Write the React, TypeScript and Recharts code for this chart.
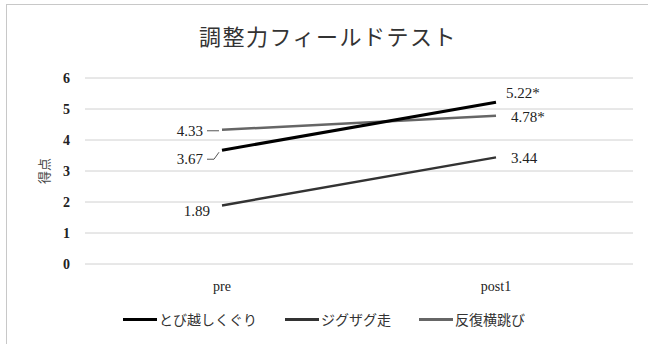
import React from 'react';
import { LineChart, Line, XAxis, YAxis, CartesianGrid, Legend, LabelList } from 'recharts';

// Test sessions
const sessions = ['pre', 'post1'];

// Mean scores per test item
const tobikoshiKuguri = [3.67, 5.22];
const zigzagRun = [1.89, 3.44];
const sideStep = [4.33, 4.78];

// Significance markers (*) per session
const tobikoshiSig = [false, true];
const zigzagSig = [false, false];
const sideStepSig = [false, true];

const yTicks = [0, 1, 2, 3, 4, 5, 6];

const seriesNames = ['とび越しくぐり', 'ジグザグ走', '反復横跳び'];

const data = sessions.map((s, i) => ({
  session: s,
  a: tobikoshiKuguri[i],
  b: zigzagRun[i],
  c: sideStep[i],
  aSig: tobikoshiSig[i],
  bSig: zigzagSig[i],
  cSig: sideStepSig[i],
}));

const SERIF = '"Liberation Serif", "DejaVu Serif", serif';
const JP = '"Noto Sans CJK JP", "Noto Sans", sans-serif';

type LabelStyle = { dx: number; dy: number; anchor: 'start' | 'end'; leader?: 'flat' | 'bent' };

// Label placement per series, indexed by session
const labelPlacement: Record<string, LabelStyle[]> = {
  a: [
    { dx: -19, dy: 14, anchor: 'end', leader: 'bent' },
    { dx: 10, dy: -4, anchor: 'start' },
  ],
  b: [
    { dx: -12, dy: 11, anchor: 'end' },
    { dx: 15, dy: 6, anchor: 'start' },
  ],
  c: [
    { dx: -19, dy: 6, anchor: 'end', leader: 'flat' },
    { dx: 15, dy: 6, anchor: 'start' },
  ],
};

const makeLabel = (key: string) => (props: any) => {
  const { x, y, value, index } = props;
  if (x == null || y == null) return null;
  const p = labelPlacement[key][index];
  const sig = data[index][(key + 'Sig') as 'aSig'];
  const text = Number(value).toFixed(2) + (sig ? '*' : '');
  let leader: React.ReactNode = null;
  if (p.leader === 'flat') {
    leader = <path d={`M${x - 15},${y + 1} L${x - 3},${y + 1}`} stroke="#555" strokeWidth={1} fill="none" />;
  } else if (p.leader === 'bent') {
    leader = (
      <path d={`M${x - 15},${y + 9} L${x - 8},${y + 9} L${x - 3},${y + 2}`} stroke="#555" strokeWidth={1} fill="none" />
    );
  }
  return (
    <g>
      {leader}
      <text x={x + p.dx} y={y + p.dy} textAnchor={p.anchor} fontFamily={SERIF} fontSize={15} fill="#222">
        {text}
      </text>
    </g>
  );
};

const legendColors = ['#000000', '#333333', '#666666'];

const LegendContent = () => (
  <div style={{ display: 'flex', justifyContent: 'center', alignItems: 'center', gap: 28, fontFamily: JP, fontSize: 14, color: '#333' }}>
    {seriesNames.map((n, i) => (
      <div key={n} style={{ display: 'flex', alignItems: 'center' }}>
        <span style={{ display: 'inline-block', width: 34, height: 3, background: legendColors[i], marginRight: 2 }} />
        <span>{n}</span>
      </div>
    ))}
  </div>
);

const YLabel = (props: any) => {
  const { viewBox } = props;
  const cx = viewBox.x - 2;
  const cy = viewBox.y + viewBox.height / 2;
  return (
    <text x={cx} y={cy} transform={`rotate(-90 ${cx} ${cy})`} textAnchor="middle" dominantBaseline="central" fontFamily={JP} fontSize={13} fill="#444">
      得点
    </text>
  );
};

export default function App() {
  return (
    <div style={{ position: 'absolute', left: 0, top: 0, width: 648, height: 344, overflow: 'hidden', background: '#fff' }}>
      <div style={{ position: 'absolute', left: 6, top: 4, width: 700, height: 400, border: '1px solid #c8c8c8', boxSizing: 'border-box' }} />
      <div
        style={{
          position: 'absolute',
          left: 0,
          top: 22,
          width: 656,
          textAlign: 'center',
          fontFamily: JP,
          fontSize: 22,
          letterSpacing: 1.5,
          color: '#333',
          lineHeight: '26px',
        }}
      >
        調整力フィールドテスト
      </div>
      <div style={{ position: 'absolute', left: 0, top: 0 }}>
        <LineChart width={648} height={344} data={data} margin={{ top: 78, right: 15, bottom: 50, left: 45 }}>
          <CartesianGrid vertical={false} stroke="#d0d0d0" strokeWidth={1} />
          <XAxis
            dataKey="session"
            scale="band"
            axisLine={false}
            tickLine={false}
            height={30}
            tickMargin={11}
            tick={{ fontFamily: SERIF, fontSize: 14, fill: '#222' }}
          />
          <YAxis
            domain={[0, 6]}
            ticks={yTicks}
            axisLine={false}
            tickLine={false}
            width={40}
            tickMargin={9}
            tick={{ fontFamily: SERIF, fontSize: 14, fill: '#222', fontWeight: 'bold' }}
            label={<YLabel />}
          />
          <Legend
            layout="horizontal"
            verticalAlign="middle"
            align="center"
            content={<LegendContent />}
            wrapperStyle={{ top: 309, left: 0, width: 648 }}
          />
          <Line dataKey="c" name={seriesNames[2]} stroke="#666666" strokeWidth={2.5} dot={false} isAnimationActive={false}>
            <LabelList dataKey="c" content={makeLabel('c')} />
          </Line>
          <Line dataKey="b" name={seriesNames[1]} stroke="#333333" strokeWidth={2.5} dot={false} isAnimationActive={false}>
            <LabelList dataKey="b" content={makeLabel('b')} />
          </Line>
          <Line dataKey="a" name={seriesNames[0]} stroke="#000000" strokeWidth={3} dot={false} isAnimationActive={false}>
            <LabelList dataKey="a" content={makeLabel('a')} />
          </Line>
        </LineChart>
      </div>
    </div>
  );
}
